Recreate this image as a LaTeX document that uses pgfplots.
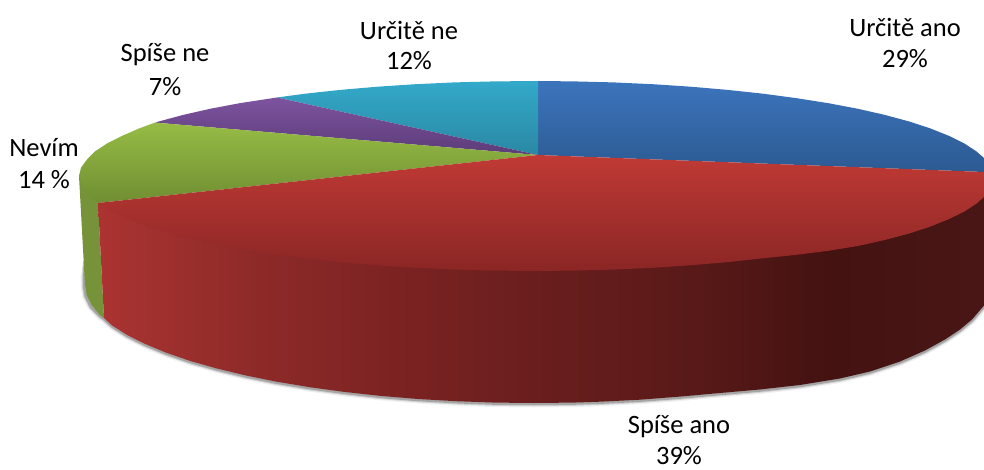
\documentclass[border=0pt]{standalone}
\usepackage{pgfplots}
\pgfplotsset{compat=1.18}
\usepackage{fontspec}
\setmainfont{Carlito}

% Side wall of the large slice: dark towards the right of the cylinder
\definecolor{wallA}{RGB}{172,51,49}
\definecolor{wallB}{RGB}{165,50,48}
\definecolor{wallC}{RGB}{141,42,40}
\definecolor{wallD}{RGB}{124,35,34}
\definecolor{wallE}{RGB}{110,31,31}
\definecolor{wallF}{RGB}{88,25,24}
\definecolor{wallG}{RGB}{67,18,17}
\definecolor{wallH}{RGB}{71,21,20}
\definecolor{wallI}{RGB}{74,22,21}
\pgfdeclarehorizontalshading{sidewall}{100bp}{
  color(0bp)=(wallA); color(25bp)=(wallA); color(26.6bp)=(wallB);
  color(34.1bp)=(wallC); color(41.6bp)=(wallD); color(47.7bp)=(wallE);
  color(59bp)=(wallF); color(66.5bp)=(wallG); color(72.1bp)=(wallH);
  color(75bp)=(wallI); color(100bp)=(wallI)}

\definecolor{blueT}{RGB}{60,116,188}
\definecolor{blueB}{RGB}{44,90,146}
\definecolor{cyanT}{RGB}{51,169,202}
\definecolor{cyanB}{RGB}{42,136,163}
\definecolor{purpleT}{RGB}{125,83,159}
\definecolor{purpleB}{RGB}{92,60,120}
\definecolor{greenT}{RGB}{151,188,69}
\definecolor{greenB}{RGB}{111,142,50}
\definecolor{greenS}{RGB}{118,147,58}
\definecolor{redT}{RGB}{192,58,53}
\definecolor{redB}{RGB}{138,38,37}

% One layer of the soft shadow under the rim: width, opacity, height where it starts
\newcommand\rimshadow[3]{%
  \addplot[draw=black, opacity=#2, line width=#1pt, line join=round, line cap=round] coordinates {
    (84,#3) (84,286) (85.7,296.3) (91,307) (100.3,316.5) (104,319) (112,326.4) (127,335.9)
    (145.2,345) (166.2,353.7) (190,361.9) (216.5,369.4) (245.4,376.4) (276.5,382.7)
    (309.5,388.2) (344.2,392.9) (380.4,396.9) (417.8,400) (456,402.2) (494.9,403.6)
    (534,404) (573,403.6) (600,402.7) (640,400.7) (680,397.6) (720,394) (760,390.5)
    (800,386) (840,379.5) (870,372.5) (900,362.5) (925,351.5) (945,340.5) (960,330.5)
    (972,320.5) (984,306.5)};}

\begin{document}
\begin{tikzpicture}
\begin{axis}[
  hide axis, scale only axis,
  width=984pt, height=470pt,
  xmin=0, xmax=984, ymin=0, ymax=470,
  y dir=reverse,
]
% Page frame of the drawing
\path (axis cs:0,0) rectangle (axis cs:984,470);
% Soft shadow, tapering off up the left side
\rimshadow{7}{0.06}{276}
\rimshadow{4.5}{0.12}{268}
\rimshadow{2.5}{0.22}{262}
% Side of the green slice
\addplot[draw=none, fill=greenS] coordinates {
  (79,176) (85,285) (86.7,295.3) (91.8,305.5) (100.3,315.5) (104,318) (98,203)} -- cycle;
% Side of the red slice
\addplot[draw=none, shade, shading=sidewall] coordinates {
  (98,203) (104,318) (112,325.4) (127,334.9) (145.2,344) (166.2,352.7) (190,360.9)
  (216.5,368.4) (245.4,375.4) (276.5,381.7) (309.5,387.2) (344.2,391.9) (380.4,395.9)
  (417.8,399) (456,401.2) (494.9,402.6) (534,403) (573,402.6) (600,401.7) (640,399.7)
  (680,396.6) (720,393) (760,389.5) (800,385) (840,378.5) (870,371.5) (900,361.5)
  (925,350.5) (945,339.5) (960,329.5) (972,319.5) (984,305.5) (984,197)} -- cycle;
% Top faces, clockwise from twelve o'clock
\addplot[draw=none, top color=blueT, bottom color=blueB] coordinates {
  (538,155) (538,81) (573.9,81.4) (613.5,82.4) (652.5,84.2) (690.6,86.7) (727.6,89.9)
  (763,93.7) (796.7,98.2) (828.4,103.2) (857.9,108.8) (884.8,114.9) (909.2,121.5)
  (930.6,128.5) (949.1,135.9) (964.4,143.5) (976.4,151.4) (984,158) (984,172)} -- cycle;
\addplot[draw=none, top color=cyanT, bottom color=cyanB] coordinates {
  (538,155) (277,97.5) (305,93.7) (340.4,89.9) (377.4,86.7) (415.5,84.2) (454.5,82.4)
  (494.1,81.4) (538,81)} -- cycle;
\addplot[draw=none, top color=purpleT, bottom color=purpleB] coordinates {
  (538,155) (155,122.6) (158.8,121.5) (183.2,114.9) (210.1,108.8) (239.6,103.2) (277,97.5)} -- cycle;
\addplot[draw=none, top color=greenT, bottom color=greenB] coordinates {
  (538,155) (98,203) (95,200.6) (87,192.5) (81.3,184.3) (79,176) (81,167.7) (87,159.5)
  (95,151.4) (107,143.5) (122,135.9) (139,128.5) (155,122.6)} -- cycle;
\addplot[draw=none, top color=redT, bottom color=redB] coordinates {
  (538,155) (984,172) (984,197) (976.4,203.6) (964.4,211.5) (949.1,219) (930.6,226.5)
  (909.2,233.5) (884.8,240) (857.9,246) (828.4,250.8) (796.7,254.8) (763,258.3)
  (727.6,262.1) (690.6,265.3) (652.5,267.8) (613.5,269.6) (573.9,270.6) (534,271)
  (494.1,270.6) (454.5,269.6) (415.5,267.8) (377.4,265.3) (340.4,262.1) (305,258.3)
  (271.3,253.8) (239.6,248.8) (210.1,243.2) (183.2,237.1) (158.8,230.5) (139,223.5)
  (122,216.1) (107,208.5) (98,203)} -- cycle;
% Slice labels
\def\lab#1#2#3{\node[font=\fontsize{26.5}{26.5}\selectfont, text=black, inner sep=0pt, anchor=center] at (axis cs:#1,#2) {#3};}
\lab{905}{27}{Určitě ano}
\lab{905}{59}{29\%}
\lab{409}{30}{Určitě ne}
\lab{409}{61}{12\%}
\lab{165}{55}{Spíše ne}
\lab{165}{87}{7\%}
\lab{44}{148}{Nevím}
\lab{44}{180}{14 \%}
\lab{679}{427}{Spíše ano}
\lab{679}{456}{39\%}
\end{axis}
\end{tikzpicture}
\end{document}
